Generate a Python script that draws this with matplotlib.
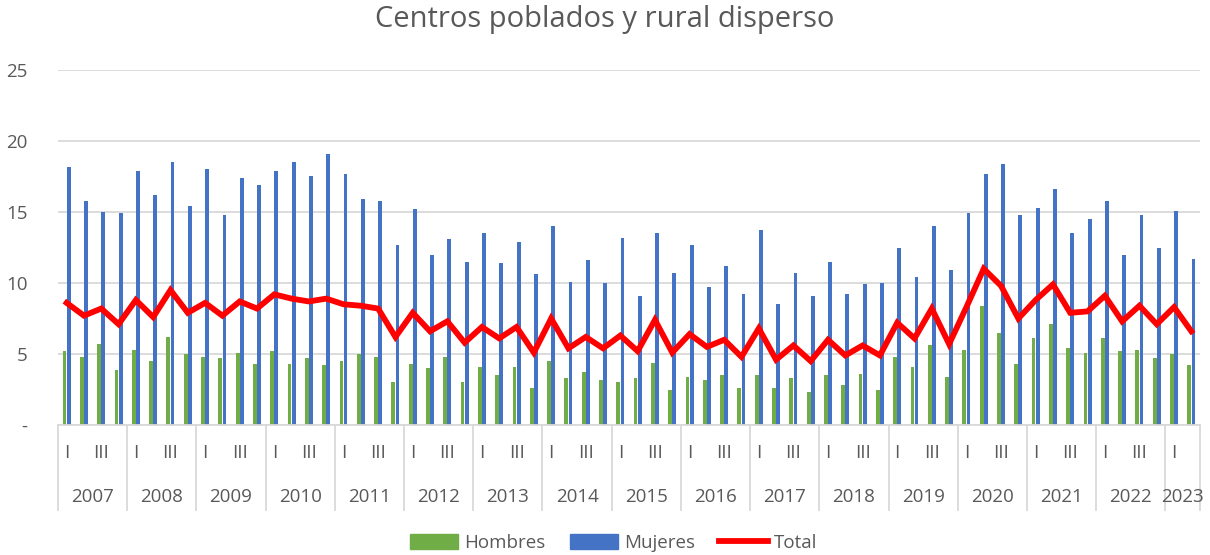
import matplotlib
matplotlib.use("Agg")
import matplotlib.pyplot as plt
import matplotlib.transforms as mtransforms
from matplotlib.patches import Patch
from matplotlib.lines import Line2D
import numpy as np

plt.rcParams['font.family'] = ['Open Sans', 'DejaVu Sans']

years = ['2007', '2008', '2009', '2010', '2011', '2012', '2013', '2014',
         '2015', '2016', '2017', '2018', '2019', '2020', '2021', '2022', '2023']
quarters_per_year = [4] * 16 + [2]
quarter_names = ['I', 'II', 'III', 'IV']

hombres = [5.2, 4.8, 5.7, 3.9, 5.3, 4.5, 6.2, 5.0, 4.8, 4.7, 5.1, 4.3,
           5.2, 4.3, 4.7, 4.2, 4.5, 5.0, 4.8, 3.0, 4.3, 4.0, 4.8, 3.0,
           4.1, 3.5, 4.1, 2.6, 4.5, 3.3, 3.7, 3.2, 3.0, 3.3, 4.4, 2.5,
           3.4, 3.2, 3.5, 2.6, 3.5, 2.6, 3.3, 2.3, 3.5, 2.8, 3.6, 2.5,
           4.8, 4.1, 5.6, 3.4, 5.3, 8.4, 6.5, 4.3, 6.1, 7.1, 5.4, 5.1,
           6.1, 5.2, 5.3, 4.7, 5.0, 4.2]
mujeres = [18.2, 15.8, 15.0, 14.9, 17.9, 16.2, 18.5, 15.4, 18.0, 14.8, 17.4, 16.9,
           17.9, 18.5, 17.5, 19.1, 17.7, 15.9, 15.8, 12.7, 15.2, 12.0, 13.1, 11.5,
           13.5, 11.4, 12.9, 10.6, 14.0, 10.1, 11.6, 10.0, 13.2, 9.1, 13.5, 10.7,
           12.7, 9.7, 11.2, 9.2, 13.7, 8.5, 10.7, 9.1, 11.5, 9.2, 9.9, 10.0,
           12.5, 10.4, 14.0, 10.9, 14.9, 17.7, 18.4, 14.8, 15.3, 16.6, 13.5, 14.5,
           15.8, 12.0, 14.8, 12.5, 15.1, 11.7]
total = [8.6, 7.7, 8.2, 7.1, 8.8, 7.6, 9.5, 7.9, 8.6, 7.7, 8.7, 8.2,
         9.2, 8.9, 8.7, 8.9, 8.5, 8.4, 8.2, 6.2, 7.9, 6.6, 7.3, 5.8,
         6.9, 6.1, 6.9, 5.1, 7.5, 5.4, 6.2, 5.4, 6.3, 5.2, 7.4, 5.1,
         6.4, 5.5, 6.0, 4.8, 6.8, 4.6, 5.6, 4.5, 6.0, 4.9, 5.6, 4.9,
         7.2, 6.1, 8.2, 5.7, 8.3, 11.0, 9.8, 7.5, 8.8, 9.9, 7.9, 8.0,
         9.1, 7.3, 8.4, 7.1, 8.3, 6.6]

GREEN = '#70AD47'
BLUE = '#4472C4'
RED = '#FF0000'
GRID = '#D9D9D9'
TXT = '#595959'

fig = plt.figure(figsize=(12.1, 5.55), dpi=100)
ax = fig.add_axes([58 / 1210, 1 - 425 / 555, (1200 - 58) / 1210, 355 / 555])

x = np.arange(len(total))
w = 0.22
ax.bar(x - 0.12, hombres, width=w, color=GREEN, zorder=2)
ax.bar(x + 0.12, mujeres, width=w, color=BLUE, zorder=2)
ax.plot(x, total, color=RED, lw=4.2, zorder=3, solid_joinstyle='miter')

ax.set_xlim(-0.5, len(total) - 0.5)
ax.set_ylim(0, 25)
ax.set_yticks([0, 5, 10, 15, 20, 25])
ax.set_yticklabels(['-', '5', '10', '15', '20', '25'])
ax.yaxis.grid(True, color=GRID, lw=1.3, zorder=0)
ax.tick_params(axis='y', length=0, pad=22, labelsize=13.5, labelcolor=TXT)
ax.set_xticks([])
for s in ['top', 'right', 'left']:
    ax.spines[s].set_visible(False)
ax.spines['bottom'].set_color(GRID)
ax.spines['bottom'].set_linewidth(1.3)

# multi-level category axis
trans = mtransforms.blended_transform_factory(ax.transData, ax.transAxes)
start = 0
bounds = [-0.5]
for yr, nq in zip(years, quarters_per_year):
    for q in range(nq):
        if q % 2 == 0:
            ax.text(start + q, -0.079, quarter_names[q], transform=trans,
                    ha='center', va='center', fontsize=13.5, color=TXT)
    ax.text(start + (nq - 1) / 2, -0.203, yr, transform=trans,
            ha='center', va='center', fontsize=13.5, color=TXT)
    start += nq
    bounds.append(start - 0.5)
for b in bounds:
    ax.plot([b, b], [0, -0.24], transform=trans, color=GRID, lw=1.3, clip_on=False)

fig.text(0.5, 1 - 20 / 555, 'Centros poblados y rural disperso', ha='center', va='center',
         fontsize=21, color=TXT)

handles = [Patch(color=GREEN), Patch(color=BLUE), Line2D([], [], color=RED, lw=4.2)]
fig.legend(handles, ['Hombres', 'Mujeres', 'Total'], loc='center', ncol=3,
           bbox_to_anchor=(0.507, 1 - 543 / 555), frameon=False, fontsize=13.5,
           handlelength=2.6, handleheight=0.8, handletextpad=0.3, columnspacing=1.3,
           labelcolor=TXT)

fig.savefig('out.png', dpi=100)
